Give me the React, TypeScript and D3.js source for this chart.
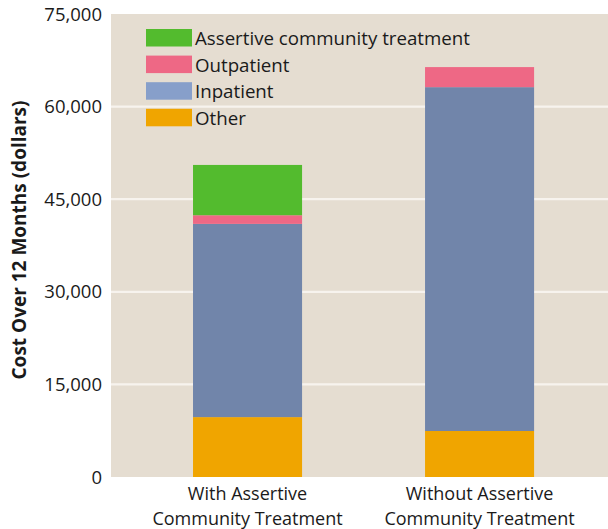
import { useEffect, useRef } from 'react';
import * as d3 from 'd3';

const categories = ['With Assertive\nCommunity Treatment', 'Without Assertive\nCommunity Treatment'];
const other = [9700, 7450];
const inpatient = [31300, 55700];
const outpatient = [1400, 3250];
const act = [8150, 0];
const yTicks = [0, 15000, 30000, 45000, 60000, 75000];

const seriesKeys = ['other', 'inpatient', 'outpatient', 'act'];
const barColors: Record<string, string> = {
  other: '#f0a500',
  inpatient: '#7185aa',
  outpatient: '#ee6885',
  act: '#53bb2e',
};
const legendItems = [
  { label: 'Assertive community treatment', color: '#53bb2e' },
  { label: 'Outpatient', color: '#ee6885' },
  { label: 'Inpatient', color: '#879fca' },
  { label: 'Other', color: '#f0a500' },
];

const W = 608;
const H = 529;
const FONT = '"Open Sans", sans-serif';

export default function App() {
  const ref = useRef<SVGSVGElement>(null);

  useEffect(() => {
    if (!ref.current) return;
    const svg = d3.select(ref.current);
    svg.selectAll('*').remove();

    const left = 111, right = 608, top = 14, bottom = 477;

    const x = d3.scaleBand<string>()
      .domain(categories)
      .range([left, right])
      .paddingInner(0.53)
      .paddingOuter(0.336)
      .align(0.526);

    const y = d3.scaleLinear().domain([0, 75000]).range([bottom, top]);

    // plot background
    svg.append('rect')
      .attr('x', left).attr('y', top)
      .attr('width', right - left).attr('height', bottom - top)
      .attr('fill', '#e5ddd1');

    // grid
    svg.selectAll('line.grid')
      .data(yTicks.filter(t => t > 0 && t < 75000))
      .enter().append('line')
      .attr('x1', left).attr('x2', right)
      .attr('y1', d => y(d)).attr('y2', d => y(d))
      .attr('stroke', '#f7f3ee')
      .attr('stroke-width', 2.2);

    // tick labels
    svg.selectAll('text.tick')
      .data(yTicks)
      .enter().append('text')
      .attr('x', 102)
      .attr('y', d => y(d))
      .attr('dy', '0.36em')
      .attr('text-anchor', 'end')
      .attr('font-family', FONT)
      .attr('font-size', 18.5)
      .attr('fill', '#1a1a1a')
      .text(d => d3.format(',')(d));

    // stacked bars
    const rows = categories.map((c, i) => ({
      cat: c, other: other[i], inpatient: inpatient[i], outpatient: outpatient[i], act: act[i],
    }));
    const stacked = d3.stack<any>().keys(seriesKeys)(rows);

    stacked.forEach(layer => {
      svg.append('g')
        .selectAll('rect')
        .data(layer)
        .enter().append('rect')
        .attr('x', d => x(d.data.cat)!)
        .attr('width', x.bandwidth())
        .attr('y', d => y(d[1]))
        .attr('height', d => y(d[0]) - y(d[1]))
        .attr('fill', barColors[layer.key]);
    });

    // x labels
    categories.forEach(c => {
      const cx = x(c)! + x.bandwidth() / 2;
      c.split('\n').forEach((line, j) => {
        svg.append('text')
          .attr('x', cx)
          .attr('y', 500 + j * 24.8)
          .attr('text-anchor', 'middle')
          .attr('font-family', FONT)
          .attr('font-size', 18)
          .attr('fill', '#1a1a1a')
          .text(line);
      });
    });

    // y title
    svg.append('text')
      .attr('transform', 'translate(18.5,240) rotate(-90)')
      .attr('text-anchor', 'middle')
      .attr('dominant-baseline', 'central')
      .attr('font-family', FONT)
      .attr('font-weight', 'bold')
      .attr('font-size', 19)
      .attr('fill', '#1a1a1a')
      .text('Cost Over 12 Months (dollars)');

    // legend
    const lg = svg.append('g').attr('transform', 'translate(146,29)');
    legendItems.forEach((item, i) => {
      const g = lg.append('g').attr('transform', `translate(0,${i * 26.6})`);
      g.append('rect').attr('width', 46).attr('height', 17.5).attr('fill', item.color);
      g.append('text')
        .attr('x', 49)
        .attr('y', 16)
        .attr('font-family', FONT)
        .attr('font-size', 18.7)
        .attr('fill', '#1a1a1a')
        .text(item.label);
    });
  }, []);

  return (
    <div style={{ position: 'absolute', left: 0, top: 0 }}>
      <svg ref={ref} width={W} height={H} style={{ display: 'block', background: '#fff' }} />
    </div>
  );
}
